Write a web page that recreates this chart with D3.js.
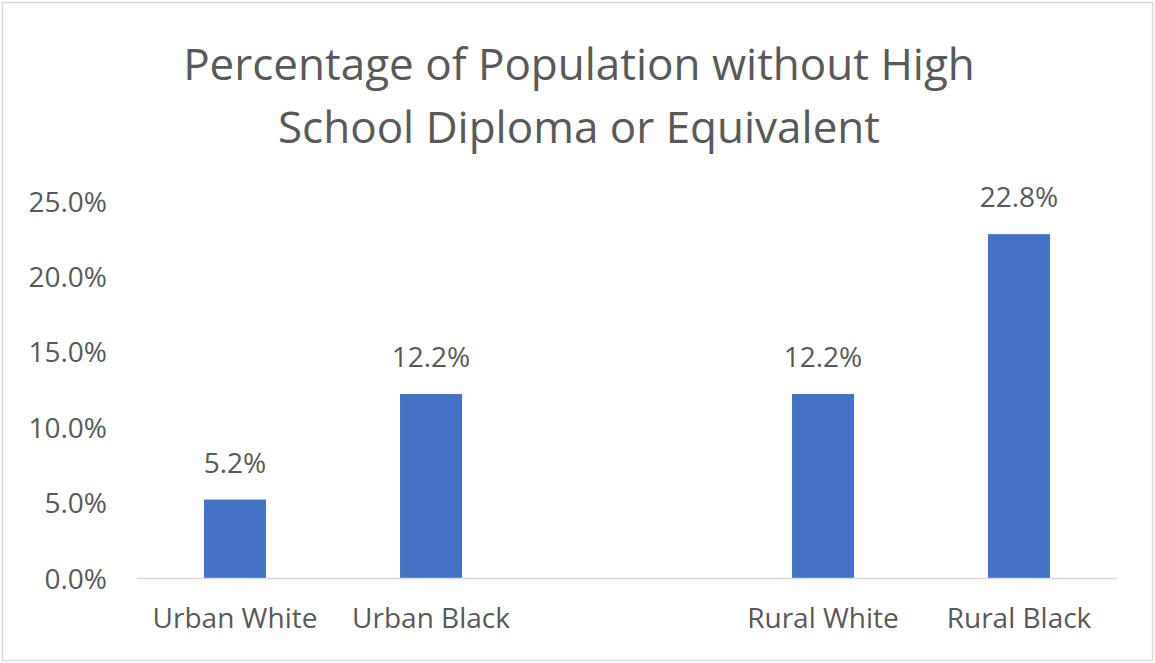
<!DOCTYPE html>
<html>
<head>
<meta charset="utf-8">
<script src="https://cdn.jsdelivr.net/npm/d3@7"></script>
<style>
  html, body { margin: 0; padding: 0; background: #fff; }
  svg { display: block; }
  text { font-family: 'Open Sans', 'Noto Sans', sans-serif; fill: #595959; }
</style>
</head>
<body>
<svg id="chart" width="1155" height="663"></svg>
<script>
// ---- data ----
const titleLines = ["Percentage of Population without High", "School Diploma or Equivalent"];
const categories = ["Urban White", "Urban Black", "", "Rural White", "Rural Black"];
const values = [0.052, 0.122, null, 0.122, 0.228];
const yTicks = [0, 0.05, 0.10, 0.15, 0.20, 0.25];

// ---- layout ----
const W = 1155, H = 663;
const svg = d3.select("#chart");

svg.append("rect")
  .attr("x", 2.5).attr("y", 2.5)
  .attr("width", W - 5).attr("height", H - 5)
  .attr("fill", "#fff").attr("stroke", "#d9d9d9").attr("stroke-width", 1.5);

const plotLeft = 137, plotRight = 1117, plotTop = 201, plotBottom = 578;

const x = d3.scaleBand()
  .domain(d3.range(categories.length))
  .range([plotLeft, plotRight])
  .paddingInner(0.684)
  .paddingOuter(0.342);

const y = d3.scaleLinear().domain([0, 0.25]).range([plotBottom, plotTop]);

// title
svg.append("g").selectAll("text")
  .data(titleLines).join("text")
  .attr("x", 579)
  .attr("y", (d, i) => 80 + i * 63)
  .attr("text-anchor", "middle")
  .style("font-size", "44px")
  .text(d => d);

// y axis (labels only)
const yAxis = d3.axisLeft(y)
  .tickValues(yTicks)
  .tickFormat(d3.format(".1%"))
  .tickSize(0)
  .tickPadding(0);
const gy = svg.append("g").attr("transform", `translate(107,0)`).call(yAxis);
gy.select(".domain").remove();
gy.selectAll("text")
  .style("font-size", "28px")
  .style("font-family", "'Open Sans', sans-serif")
  .attr("fill", "#595959")
  .attr("dy", "0.36em");

// bars
const barData = values.map((v, i) => ({ i, v })).filter(d => d.v != null);
svg.append("g").selectAll("rect")
  .data(barData).join("rect")
  .attr("x", d => x(d.i))
  .attr("width", x.bandwidth())
  .attr("y", d => y(d.v))
  .attr("height", d => y(0) - y(d.v))
  .attr("fill", "#4472C4");

// x axis
const xAxis = d3.axisBottom(x)
  .tickFormat(i => categories[i])
  .tickSize(0)
  .tickPadding(0);
const gx = svg.append("g").attr("transform", `translate(0,${plotBottom})`).call(xAxis);
gx.select(".domain")
  .attr("stroke", "#d9d9d9").attr("stroke-width", 1.5)
  .attr("d", `M${plotLeft},0.5H${plotRight}`);
gx.selectAll("text")
  .style("font-size", "28px")
  .style("font-family", "'Open Sans', sans-serif")
  .attr("fill", "#595959")
  .attr("y", 50)
  .attr("dy", 0);

// data labels
svg.append("g").selectAll("text")
  .data(barData).join("text")
  .attr("x", d => x(d.i) + x.bandwidth() / 2)
  .attr("y", d => y(d.v) - 27)
  .attr("text-anchor", "middle")
  .style("font-size", "28px")
  .text(d => d3.format(".1%")(d.v));
</script>
</body>
</html>
